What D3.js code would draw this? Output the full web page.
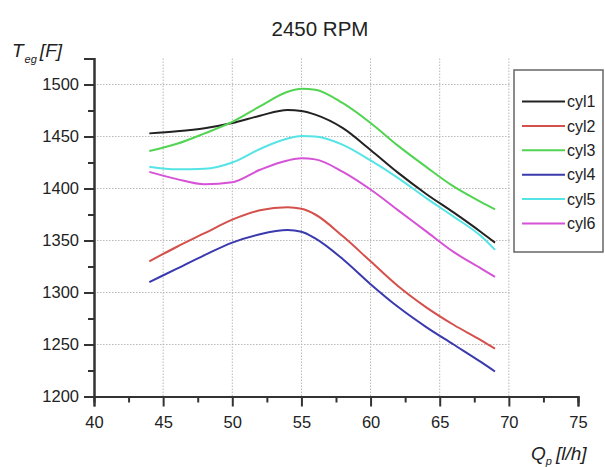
<!DOCTYPE html>
<html>
<head>
<meta charset="utf-8">
<script src="https://cdn.jsdelivr.net/npm/d3@7"></script>
<style>
  html, body { margin: 0; padding: 0; background: #fff; }
  svg { display: block; font-family: "Liberation Sans", Arial, sans-serif; }
</style>
</head>
<body>
<svg id="chart" width="605" height="467"></svg>
<script>
// ---- data ----
const flowQ = [44, 46, 48, 50, 52, 54, 55, 56, 58, 60, 62, 64, 66, 68, 69];
const seriesNames = ["cyl1", "cyl2", "cyl3", "cyl4", "cyl5", "cyl6"];
const cyl1 = [1453, 1455, 1458, 1463, 1470, 1475.5, 1474.5, 1471, 1458, 1437, 1415, 1395, 1377, 1358, 1348];
const cyl2 = [1330, 1344, 1357, 1370, 1379, 1382, 1380.5, 1375, 1354, 1330, 1306, 1286, 1269, 1254, 1246];
const cyl3 = [1436, 1443, 1453, 1464, 1479, 1493, 1496, 1495, 1482, 1463, 1441, 1421, 1402, 1387, 1380];
const cyl4 = [1310, 1323, 1336, 1348, 1356, 1360, 1358.5, 1352, 1332, 1308, 1286, 1267, 1250, 1233, 1224];
const cyl5 = [1421, 1418.5, 1419, 1425, 1438, 1448, 1450.5, 1450, 1442, 1427, 1410, 1391, 1373, 1354, 1341];
const cyl6 = [1416, 1409, 1404, 1406, 1418, 1427, 1429, 1428, 1416, 1399, 1379, 1359, 1339, 1323, 1315];
const seriesValues = [cyl1, cyl2, cyl3, cyl4, cyl5, cyl6];
const seriesColors = ["#222222", "#d4504c", "#52d452", "#3a3aae", "#55e4e6", "#d652d6"];
const xTicks = [40, 45, 50, 55, 60, 65, 70, 75];
const yTicks = [1200, 1250, 1300, 1350, 1400, 1450, 1500];
const xGrid = [45, 50, 55, 60, 65, 70];
const yGrid = [1250, 1300, 1350, 1400, 1450, 1500];
const title = "2450 RPM";

// ---- layout ----
const svg = d3.select("#chart");
const x = d3.scaleLinear().domain([40, 75]).range([94, 578]);
const y = d3.scaleLinear().domain([1200, 1525]).range([396.5, 58.5]);

// grid
const grid = svg.append("g").attr("stroke", "#b8b8b8").attr("stroke-width", 1)
  .attr("stroke-dasharray", "1.5,1.5");
grid.selectAll("line.v").data(xGrid).enter().append("line")
  .attr("x1", d => x(d)).attr("x2", d => x(d))
  .attr("y1", y(1525)).attr("y2", y(1200));
grid.selectAll("line.h").data(yGrid).enter().append("line")
  .attr("x1", x(40)).attr("x2", x(70) + 2)
  .attr("y1", d => y(d)).attr("y2", d => y(d));

// series
const line = d3.line()
  .x((d, i) => x(flowQ[i]))
  .y(d => y(d))
  .curve(d3.curveMonotoneX);
svg.append("g").selectAll("path").data(seriesValues).enter().append("path")
  .attr("d", d => line(d))
  .attr("fill", "none")
  .attr("stroke", (d, i) => seriesColors[i])
  .attr("stroke-width", 2);

// axes
const axisColor = "#333";
const xAxis = svg.append("g").attr("transform", `translate(0,${y(1200)})`)
  .call(d3.axisBottom(x).tickValues(xTicks).tickSize(10).tickPadding(9).tickFormat(d3.format("d")));
const xMinor = svg.append("g").attr("transform", `translate(0,${y(1200)})`)
  .call(d3.axisBottom(x).tickValues(d3.range(42.5, 75, 5)).tickSize(6).tickFormat(""));
const yAxis = svg.append("g").attr("transform", `translate(${x(40)},0)`)
  .call(d3.axisLeft(y).tickValues(yTicks).tickSize(10).tickPadding(5).tickFormat(d3.format("d")));
const yMinor = svg.append("g").attr("transform", `translate(${x(40)},0)`)
  .call(d3.axisLeft(y).tickValues(d3.range(1225, 1526, 50)).tickSize(6).tickFormat(""));
[xAxis, xMinor, yAxis, yMinor].forEach(g => {
  g.select(".domain").attr("stroke", axisColor).attr("stroke-width", 2);
  g.selectAll(".tick line").attr("stroke", axisColor).attr("stroke-width", 2);
  g.selectAll(".tick text").attr("fill", "#222").style("font-size", "16.5px")
    .style("font-family", "'Liberation Sans', Arial, sans-serif");
});
xAxis.selectAll(".tick text").attr("dy", "0.75em");

// title
svg.append("text").attr("x", 320).attr("y", 36).attr("text-anchor", "middle")
  .style("font-size", "20.5px").attr("fill", "#222").text(title);

// y label
const yl = svg.append("text").attr("x", 12).attr("y", 57)
  .style("font-size", "19px").style("font-style", "italic").attr("fill", "#222");
yl.append("tspan").text("T");
yl.append("tspan").attr("dy", 6).attr("dx", 1).style("font-size", "11px").text("eg");
yl.append("tspan").attr("dy", -6).attr("dx", 3).text("[F]");

// x label
const xl = svg.append("text").attr("x", 531).attr("y", 460)
  .style("font-size", "19px").style("font-style", "italic").attr("fill", "#222");
xl.append("tspan").text("Q");
xl.append("tspan").attr("dy", 5).style("font-size", "11px").text("p");
xl.append("tspan").attr("dy", -5).attr("dx", 4).text("[l/h]");

// legend
const lg = svg.append("g");
lg.append("rect").attr("x", 514).attr("y", 70).attr("width", 89).attr("height", 182)
  .attr("fill", "#fff").attr("stroke", "#666").attr("stroke-width", 1.5);
const items = lg.selectAll("g.item").data(seriesNames).enter().append("g")
  .attr("transform", (d, i) => `translate(0,${101.5 + i * 24.4})`);
items.append("line").attr("x1", 522).attr("x2", 565).attr("y1", 0).attr("y2", 0)
  .attr("stroke", (d, i) => seriesColors[i]).attr("stroke-width", 2);
items.append("text").attr("x", 567).attr("y", 0).attr("dy", "0.35em")
  .style("font-size", "16px").attr("fill", "#222").text(d => d);
</script>
</body>
</html>
